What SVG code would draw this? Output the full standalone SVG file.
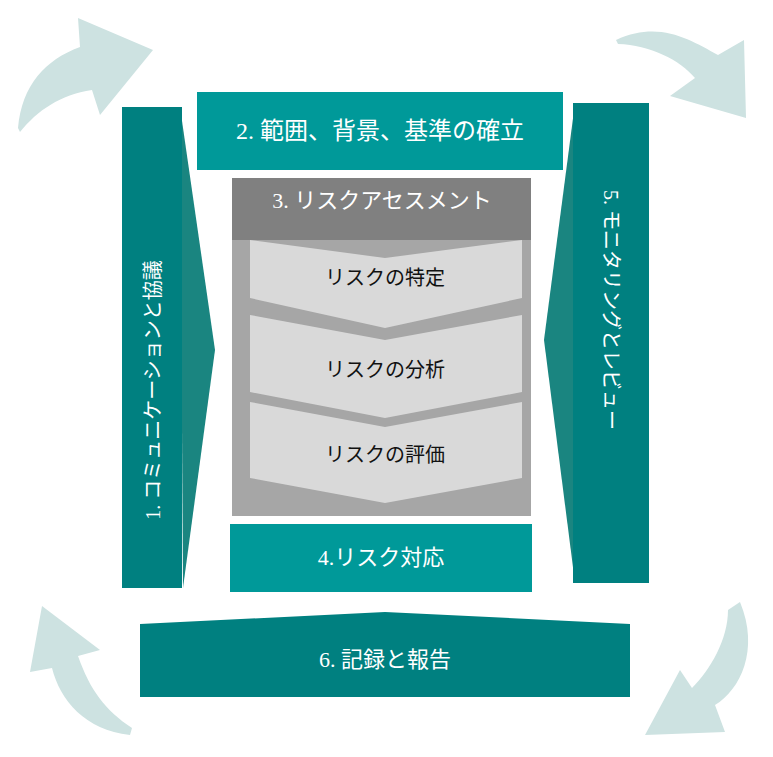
<svg xmlns="http://www.w3.org/2000/svg" width="773" height="757" viewBox="0 0 773 757">
<style>
.arr{fill:#cde2e1}
.w{fill:#fff;font-family:"Liberation Serif","Noto Sans CJK JP",serif}
.k{fill:#111;font-family:"Liberation Serif","Noto Sans CJK JP",serif;font-size:20px;text-anchor:middle}
</style>
<rect width="773" height="757" fill="#fff"/>
<g id="cycle-arrows">
<path class="arr" d="M18 128 C22 85 45 60 80 47 L78 18 L153 50 L100 115 L92 90 C60 95 38 110 20 132 Z"/>
<path class="arr" d="M616 40 C660 20 690 40 718 55 L744 40 L746 118 L670 96 L695 78 C680 60 650 45 618 44 Z"/>
<path class="arr" d="M130 735 C85 730 60 700 52 668 L30 672 L42 606 L100 650 L78 656 C90 690 105 710 132 728 Z"/>
<path class="arr" d="M740 602 C760 650 740 690 715 705 L725 732 L645 735 L680 670 L692 688 C710 670 728 640 728 610 Z"/>
</g>
<g id="n1">
<path d="M180 107 L215 350 L183 588 Z" fill="#1a8580"/>
<rect x="122" y="107" width="60" height="481" fill="#008080"/>
<text class="w" font-size="20" text-anchor="middle" transform="translate(160 390) rotate(-90)">1. コミュニケーションと協議</text>
</g>
<g id="n5">
<path d="M575 103 L544 340 L575 583 Z" fill="#1a8580"/>
<rect x="573" y="103" width="76" height="480" fill="#008080"/>
<text class="w" font-size="20" text-anchor="start" transform="translate(604 190) rotate(90)">5. モニタリングとレビュー</text>
</g>
<g id="n2">
<rect x="197" y="92" width="366" height="78" fill="#009999"/>
<text class="w" font-size="24" text-anchor="middle" x="380" y="139">2. 範囲、背景、基準の確立</text>
</g>
<g id="n3">
<rect x="232" y="240" width="299" height="276" fill="#a6a6a6"/>
<rect x="232" y="178" width="299" height="62" fill="#808080"/>
<text class="w" font-size="22" text-anchor="middle" x="382" y="208">3. リスクアセスメント</text>
<path d="M250 240 L522 240 L522 298 L385 328 L250 298 Z M250 240 L385 258 L522 240 Z" fill="#d9d9d9" fill-rule="evenodd"/>
<path d="M250 315 L385 340 L522 315 L522 392 L385 418 L250 392 Z" fill="#d9d9d9"/>
<path d="M250 402 L385 427 L522 402 L522 478 L385 503 L250 478 Z" fill="#d9d9d9"/>
<text class="k" x="385" y="285">リスクの特定</text>
<text class="k" x="385" y="377">リスクの分析</text>
<text class="k" x="385" y="462">リスクの評価</text>
</g>
<g id="n4">
<rect x="230" y="524" width="302" height="68" fill="#009999"/>
<text class="w" font-size="22" text-anchor="middle" x="381" y="565">4.リスク対応</text>
</g>
<g id="n6">
<path d="M140 624 L385 612 L630 624 L630 697 L140 697 Z" fill="#008080"/>
<text class="w" font-size="22" text-anchor="middle" x="385" y="667">6. 記録と報告</text>
</g>
<g id="connectors"/>
</svg>
